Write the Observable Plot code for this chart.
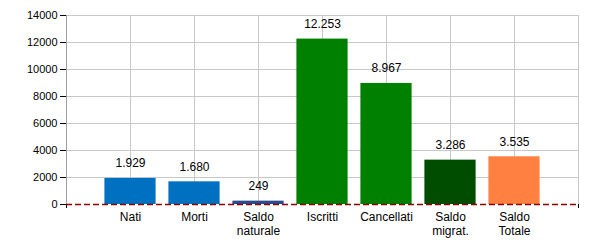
<!DOCTYPE html>
<html><head><meta charset="utf-8">
<script src="https://cdn.jsdelivr.net/npm/d3@7"></script>
<script src="https://cdn.jsdelivr.net/npm/@observablehq/plot@0.6"></script>
<style>body{margin:0;background:#fff}</style>
</head><body><div id="chart"></div>
<script>
const categories = ["Nati","Morti","Saldo\nnaturale","Iscritti","Cancellati","Saldo\nmigrat.","Saldo\nTotale"];
const values = [1929,1680,249,12253,8967,3286,3535];
const colors = ["#0070c0","#0070c0","#2b4c8c","#008000","#008000","#004d00","#ff8040"];
const yTicks = [0,2000,4000,6000,8000,10000,12000,14000];
const xGrid = [1,2,3,4,5,6,7,8];

const fmt = d3.formatLocale({decimal:",", thousands:".", grouping:[3], currency:["","€"]}).format(",d");
const data = categories.map((c,i)=>({cat:c, pos:i+1, value:values[i], color:colors[i]}));

const chart = Plot.plot({
  width:600, height:250,
  marginLeft:66, marginRight:22, marginTop:15, marginBottom:46,
  style:{fontFamily:"Liberation Sans, Arial, sans-serif", fontSize:"12px", color:"#000", background:"#fff"},
  x:{type:"linear", domain:[0,8], axis:null},
  y:{type:"linear", domain:[0,14000], axis:null},
  marks:[
    Plot.ruleY(yTicks.slice(1), {stroke:"#c8c8c8", strokeOpacity:1}),
    Plot.ruleX(xGrid, {stroke:"#c8c8c8", strokeOpacity:1}),
    Plot.ruleX([0], {stroke:"#a0a0a0", strokeOpacity:1}),
    Plot.rectY(data, {x1:d=>d.pos-0.4, x2:d=>d.pos+0.4, y1:0, y2:"value", fill:"color"}),
    Plot.text(data, {x:"pos", y:"value", text:d=>fmt(d.value), dy:-15, fill:"#000", fontSize:12}),
    Plot.text(data, {x:"pos", y:0, text:"cat", dy:7, lineAnchor:"top", lineHeight:1.15, fill:"#000", fontSize:12}),
    Plot.axisX({ticks:[0,8], tickFormat:()=>"", tickSize:4, stroke:"#000", label:null}),
    Plot.ruleY([0], {stroke:"#8b0000", strokeWidth:1.5, strokeDasharray:"6,3", strokeOpacity:1}),
    Plot.axisY({ticks:yTicks, tickFormat:d=>String(d), tickSize:6, tickPadding:3, fontSize:11, stroke:"#000", label:null})
  ]
});
document.getElementById("chart").appendChild(chart);
</script></body></html>
